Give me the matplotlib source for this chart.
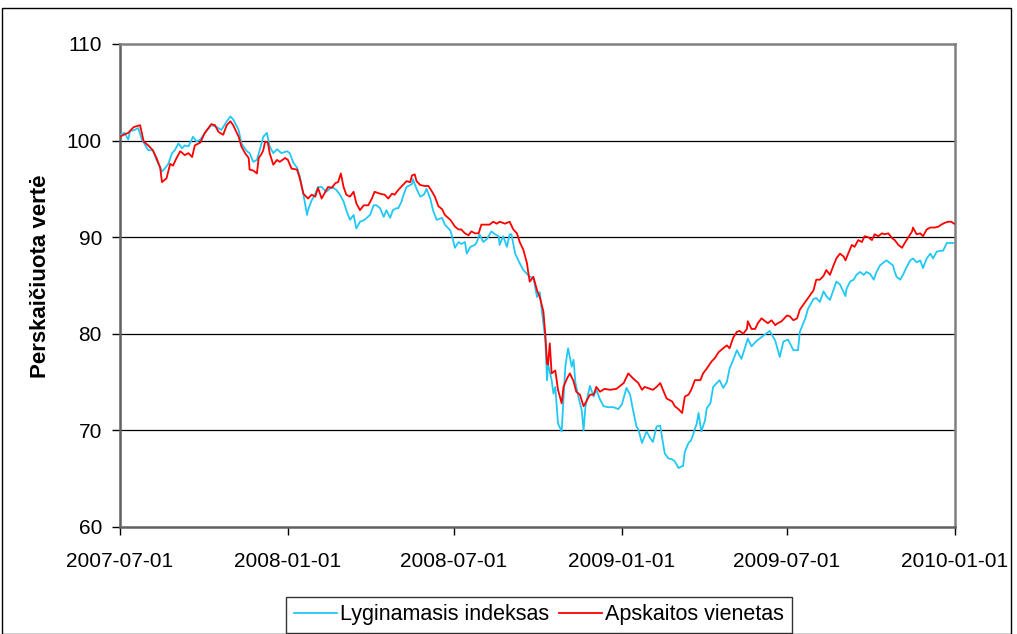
import matplotlib
matplotlib.use("Agg")
import matplotlib.pyplot as plt
import numpy as np
import pandas as pd
from matplotlib.patches import Rectangle

plt.rcParams['font.family'] = ['Liberation Sans', 'DejaVu Sans']

start_date = "2007-07-01"
end_date = "2010-01-01"

# Lyginamasis indeksas (benchmark index): days since start, value
index_days = [0, 5, 9, 11, 16, 20, 24, 31, 36, 40, 46, 49, 53, 57, 60, 64, 68, 71, 75, 80, 84, 88, 93,
              100, 106, 111, 117, 121, 124, 130, 133, 139, 142, 146, 150, 153, 157, 161, 164, 168, 172,
              177, 183, 186, 190, 194, 197, 201, 205, 206, 210, 214, 217, 221, 226, 232, 237, 241, 245,
              248, 252, 256, 259, 263, 268, 274, 278, 281, 285, 289, 292, 296, 299, 303, 305, 309, 310,
              314, 320, 321, 325, 329, 333, 336, 340, 343, 347, 353, 356, 362, 365, 367, 371, 374, 378,
              380, 384, 389, 391, 394, 398, 402, 407, 411, 415, 416, 420, 424, 427, 429, 433, 438, 442,
              449, 453, 457, 460, 462, 466, 468, 469, 473, 475, 477, 480, 484, 486, 488, 491, 495, 497,
              499, 502, 506, 508, 510, 513, 515, 519, 522, 526, 530, 535, 541, 546, 550, 555, 559, 562,
              566, 568, 572, 577, 581, 584, 588, 592, 595, 597, 601, 605, 608, 612, 616, 617, 619, 623,
              626, 632, 634, 637, 641, 643, 647, 650, 654, 657, 661, 665, 668, 672, 676, 681, 685, 688,
              692, 698, 701, 705, 712, 718, 723, 727, 732, 738, 743, 745, 751, 754, 760, 763, 767, 771,
              774, 778, 782, 785, 789, 795, 796, 800, 804, 807, 811, 815, 818, 822, 826, 829, 833, 837,
              840, 844, 847, 849, 851, 855, 858, 862, 866, 869, 873, 877, 880, 884, 888, 891, 895, 899,
              902, 906, 909, 913]
index_vals = [100.6, 100.8, 100.1, 101.0, 101.1, 101.3, 100.1, 99.0, 99.0, 98.0, 96.8, 97.1, 97.6, 98.7,
              99.0, 99.7, 99.2, 99.5, 99.4, 100.4, 99.9, 100.1, 100.8,
              101.6, 101.4, 101.1, 102.0, 102.5, 102.2, 101.1, 99.7, 98.9, 98.7, 97.8, 98.0, 99.0, 100.4,
              100.8, 99.4, 98.7, 99.1,
              98.7, 98.9, 98.7, 97.7, 97.2, 96.3, 94.4, 92.3, 92.8, 93.8, 94.5, 95.2, 95.2, 94.7, 95.2,
              94.9, 94.4, 93.7,
              92.8, 91.8, 92.3, 90.9, 91.6, 91.8, 92.3, 93.3, 93.3, 93.0, 92.1, 92.8, 92.0, 92.8, 93.0,
              93.0, 93.8, 94.2,
              95.2, 95.5, 96.0, 95.0, 94.2, 94.4, 95.0, 94.0, 92.8, 91.8, 92.0, 91.3, 90.7, 89.7, 88.9,
              89.5, 89.3, 89.5,
              88.3, 89.0, 89.2, 89.5, 90.3, 89.5, 89.8, 90.6, 90.3, 90.1, 89.2, 90.1, 89.0, 90.3, 90.3,
              88.3, 87.3, 86.6,
              85.9, 85.8, 83.8, 84.3, 82.6, 79.4, 75.2, 76.9, 75.2, 73.8, 74.5, 70.7, 69.9, 73.2, 76.6,
              78.5, 76.6, 77.3,
              75.0, 73.6, 72.1, 70.0, 72.4, 73.8, 74.6, 73.5, 74.2, 73.2, 72.5, 72.4, 72.4, 72.2, 72.7,
              74.4, 73.7, 72.2,
              70.4, 70.1, 68.7, 69.9, 69.2, 68.8, 70.4, 70.5, 68.7, 67.6, 67.1, 67.0, 66.8, 66.1, 66.3,
              66.3, 67.8, 68.7,
              69.0, 70.7, 71.8, 69.9, 71.0, 72.3, 72.8, 74.5, 74.9, 75.2, 74.4, 75.0, 76.4, 77.3, 78.3,
              77.4, 78.6, 79.5,
              78.7, 79.3, 79.5, 79.8, 80.3, 79.3, 77.6, 79.2, 79.4, 78.3, 78.3, 80.2, 81.6, 82.6, 83.6,
              83.7, 83.3, 84.4,
              83.9, 83.5, 84.6, 85.4, 85.1, 83.9, 84.6, 85.4, 85.6, 86.1, 86.4, 86.1, 86.4, 86.2, 85.6,
              86.4, 87.1, 87.4,
              87.6, 87.3, 87.1, 86.4, 85.9, 85.6, 86.1, 86.9, 87.6, 87.8, 87.4, 87.6, 86.8, 87.8, 88.3,
              87.8, 88.5, 88.6,
              88.6, 89.4, 89.4, 89.4]

# Apskaitos vienetas (unit value): days since start, value
unit_days = [0, 4, 9, 15, 22, 26, 31, 36, 40, 44, 46, 51, 55, 58, 62, 66, 71, 75, 79, 82, 88, 93, 100,
             104, 108, 113, 117, 121, 124, 130, 133, 137, 141, 142, 146, 150, 152, 155, 157, 159, 162,
             164, 168, 172, 175, 181, 184, 188, 194, 197, 201, 206, 210, 214, 217, 221, 225, 228, 232,
             236, 239, 242, 245, 248, 252, 256, 259, 263, 267, 272, 276, 279, 285, 290, 294, 298, 301,
             305, 310, 314, 318, 320, 323, 325, 329, 334, 338, 342, 345, 349, 353, 356, 362, 367, 371,
             374, 378, 382, 385, 389, 393, 396, 400, 405, 409, 413, 416, 422, 427, 431, 435, 438, 442,
             446, 447, 449, 453, 457, 460, 464, 466, 468, 469, 471, 473, 477, 480, 484, 486, 490, 493,
             497, 500, 504, 508, 511, 515, 519, 522, 526, 531, 537, 544, 552, 557, 562, 568, 572, 575,
             581, 584, 588, 592, 595, 599, 605, 608, 612, 616, 619, 623, 626, 630, 636, 639, 643, 648,
             652, 656, 661, 665, 668, 672, 676, 679, 683, 687, 688, 692, 696, 699, 703, 707, 710, 714,
             718, 721, 725, 731, 734, 738, 742, 745, 751, 754, 760, 763, 767, 771, 774, 778, 782, 785,
             789, 793, 795, 798, 802, 805, 809, 813, 816, 820, 824, 827, 831, 835, 838, 842, 846, 849,
             853, 857, 860, 864, 868, 869, 873, 877, 880, 884, 888, 893, 897, 900, 904, 908, 911, 914]
unit_vals = [100.4, 100.6, 100.8, 101.4, 101.6, 99.9, 99.5, 99.0, 98.2, 97.2, 95.7, 96.1, 97.6, 97.4,
             98.2, 98.9, 98.5, 98.7, 98.3, 99.5, 99.8, 100.8, 101.7,
             101.6, 100.9, 100.6, 101.6, 102.0, 101.6, 100.4, 99.4, 98.7, 98.2, 97.0, 96.9, 96.6, 98.2,
             98.6, 99.0, 99.9, 99.8,
             98.7, 97.5, 98.0, 97.8, 98.2, 98.0, 97.1, 97.0, 96.1, 94.5, 94.0, 94.4, 94.2, 95.1, 94.0,
             94.7, 95.2, 95.1,
             95.6, 95.7, 96.6, 95.2, 94.4, 94.2, 94.7, 93.5, 92.8, 93.3, 93.3, 94.0, 94.7, 94.5, 94.4,
             94.0, 94.5, 94.4,
             94.9, 95.4, 95.8, 95.7, 96.4, 96.5, 95.8, 95.4, 95.3, 95.3, 94.7, 94.2, 93.2, 92.9, 92.3,
             91.8, 91.1, 90.8,
             90.8, 90.4, 90.2, 90.6, 90.4, 90.4, 91.3, 91.3, 91.3, 91.6, 91.4, 91.6, 91.4, 91.6, 90.8,
             90.4, 89.5, 88.7,
             87.3, 86.6, 85.4, 85.9, 84.5, 83.8, 82.3, 80.0, 76.9, 76.8, 79.0, 75.9, 76.2, 74.2, 72.8,
             74.5, 75.4, 75.9,
             75.1, 74.0, 73.7, 72.5, 73.0, 73.7, 73.7, 74.5, 74.0, 74.3, 74.2, 74.3, 74.9, 75.9, 75.4,
             74.9, 74.2, 74.5,
             74.3, 74.2, 74.5, 74.9, 74.2, 73.3, 73.0, 72.5, 72.2, 71.8, 73.5, 73.7, 74.2, 75.2, 75.2,
             75.9, 76.4, 77.1,
             77.5, 78.1, 78.5, 78.8, 78.5, 79.6, 80.2, 80.3, 80.0, 80.5, 81.3, 80.5, 80.5, 81.1, 81.6,
             81.3, 81.1, 81.4,
             80.9, 81.1, 81.3, 81.9, 81.8, 81.4, 81.6, 82.5, 83.3, 83.7, 84.5, 85.6, 85.6, 86.0, 86.6,
             86.1, 87.1, 87.8,
             88.3, 88.0, 87.6, 88.3, 89.2, 89.0, 89.7, 89.5, 90.1, 90.0, 89.7, 90.3, 90.1, 90.4, 90.3,
             90.4, 89.9, 89.7,
             89.2, 88.9, 89.4, 90.0, 90.6, 91.0, 90.3, 90.4, 90.1, 90.8, 91.0, 91.0, 91.1, 91.3, 91.5,
             91.6, 91.6, 91.4]

series_labels = ["Lyginamasis indeksas", "Apskaitos vienetas"]
series_colors = ["#22C8F5", "#FF0000"]
y_label = "Perskaičiuota vertė"
x_tick_dates = ["2007-07-01", "2008-01-01", "2008-07-01", "2009-01-01", "2009-07-01", "2010-01-01"]
y_ticks = [60, 70, 80, 90, 100, 110]

t0 = pd.Timestamp(start_date)
index_dates = t0 + pd.to_timedelta(index_days, unit="D")
unit_dates = t0 + pd.to_timedelta(unit_days, unit="D")

fig = plt.figure(figsize=(10.17, 6.34), dpi=100)
ax = fig.add_axes([0.118, 0.1688, 0.821, 0.7618])

ax.plot(index_dates, index_vals, color=series_colors[0], lw=1.3, label=series_labels[0], zorder=3)
ax.plot(unit_dates, unit_vals, color=series_colors[1], lw=1.3, label=series_labels[1], zorder=4)

ax.set_xlim(pd.Timestamp(start_date), pd.Timestamp(end_date))
ax.set_ylim(60, 110)
ax.set_yticks(y_ticks)
ax.set_yticklabels([str(v) for v in y_ticks], fontsize=15)
xt = [pd.Timestamp(d) for d in x_tick_dates]
ax.set_xticks(xt)
ax.set_xticklabels(x_tick_dates, fontsize=15)
ax.tick_params(axis='x', direction='out', length=6, width=1, color='black', pad=12)
ax.tick_params(axis='y', direction='out', length=6, width=1, color='black', pad=7)

for v in [70, 80, 90, 100]:
    ax.axhline(v, color='black', lw=0.9, zorder=1)

for s in ['top', 'right']:
    ax.spines[s].set_color('#808080')
    ax.spines[s].set_linewidth(1.8)
for s in ['left', 'bottom']:
    ax.spines[s].set_color('#606060')
    ax.spines[s].set_linewidth(1.8)

ax.set_ylabel(y_label, fontsize=16, fontweight='bold')
ax.yaxis.set_label_coords(-0.083, 0.52)

leg = fig.legend(loc='lower center', bbox_to_anchor=(0.530, 0.002), ncol=2, fontsize=15.5,
                 frameon=True, fancybox=False, edgecolor='black', handlelength=2.0,
                 handletextpad=0.15, columnspacing=0.45, borderpad=0.35, borderaxespad=0)
leg.get_frame().set_linewidth(1.0)

fig.patches.append(Rectangle((0.0015, 0.0), 1009 / 1017, 1 - 8 / 634, transform=fig.transFigure,
                             fill=False, edgecolor='black', lw=1.0, zorder=0))

fig.savefig("out.png", dpi=100)
